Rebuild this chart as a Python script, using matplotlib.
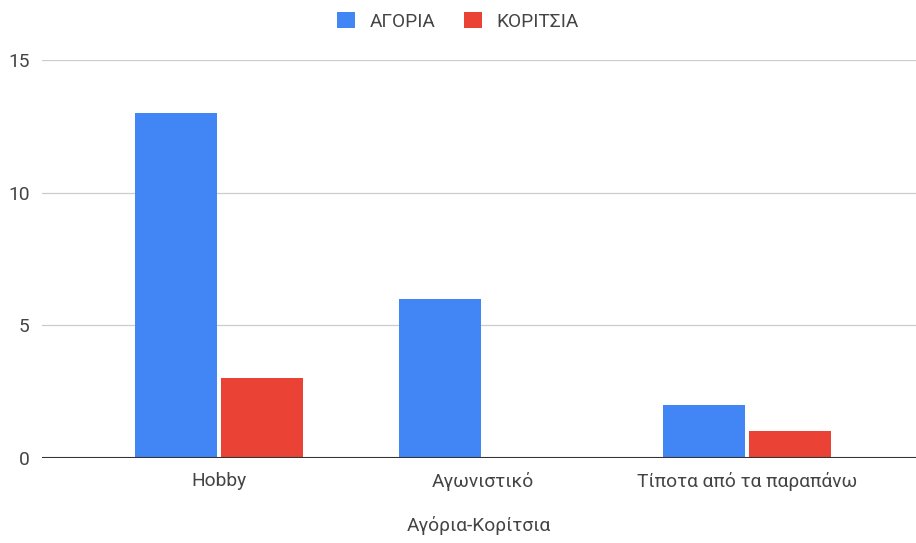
import numpy as np
from matplotlib import pyplot as plt

plt.rcParams['font.family'] = ['Roboto', 'DejaVu Sans']

categories = ["Hobby", "Αγωνιστικό", "Τίποτα από τα παραπάνω"]
boys = [13, 6, 2]
girls = [3, 0, 1]
series_names = ["ΑΓΟΡΙΑ", "ΚΟΡΙΤΣΙΑ"]
yticks = [0, 5, 10, 15]

blue = "#4285F4"
red = "#EA4335"
textColor = "#444444"
fs = 13.8

fig = plt.figure(figsize=(9.16, 5.43), dpi=100)
ax = fig.add_axes([42/916, 1 - 458/543, 874/916, 398/543])

x = np.arange(len(categories))
w = 0.31
ax.bar(x - 0.163, boys, width=w, color=blue, label=series_names[0], zorder=3)
ax.bar(x + 0.163, girls, width=w, color=red, label=series_names[1], zorder=3)

ax.set_xlim(-0.67, 2.64)
ax.set_ylim(0, 15)
ax.set_yticks(yticks)
ax.set_xticks(x)
ax.set_xticklabels(categories)
ax.tick_params(length=0, labelsize=fs, colors=textColor)
ax.tick_params(axis='y', pad=9)
ax.tick_params(axis='x', pad=10)

ax.grid(axis='y', color="#cccccc", linewidth=0.9, zorder=0)
ax.axhline(0, color="#333333", linewidth=1.5, zorder=4)
for s in ax.spines.values():
	s.set_visible(False)

ax.set_xlabel("Αγόρια-Κορίτσια", fontsize=fs, color=textColor, labelpad=18)

fig.legend(loc="upper center", bbox_to_anchor=(0.5, 1.01), ncol=2, frameon=False,
	fontsize=fs, handlelength=0.95, handleheight=0.95, columnspacing=1.5,
	handletextpad=0.75, labelcolor=textColor)

fig.savefig("out.png", dpi=100)
